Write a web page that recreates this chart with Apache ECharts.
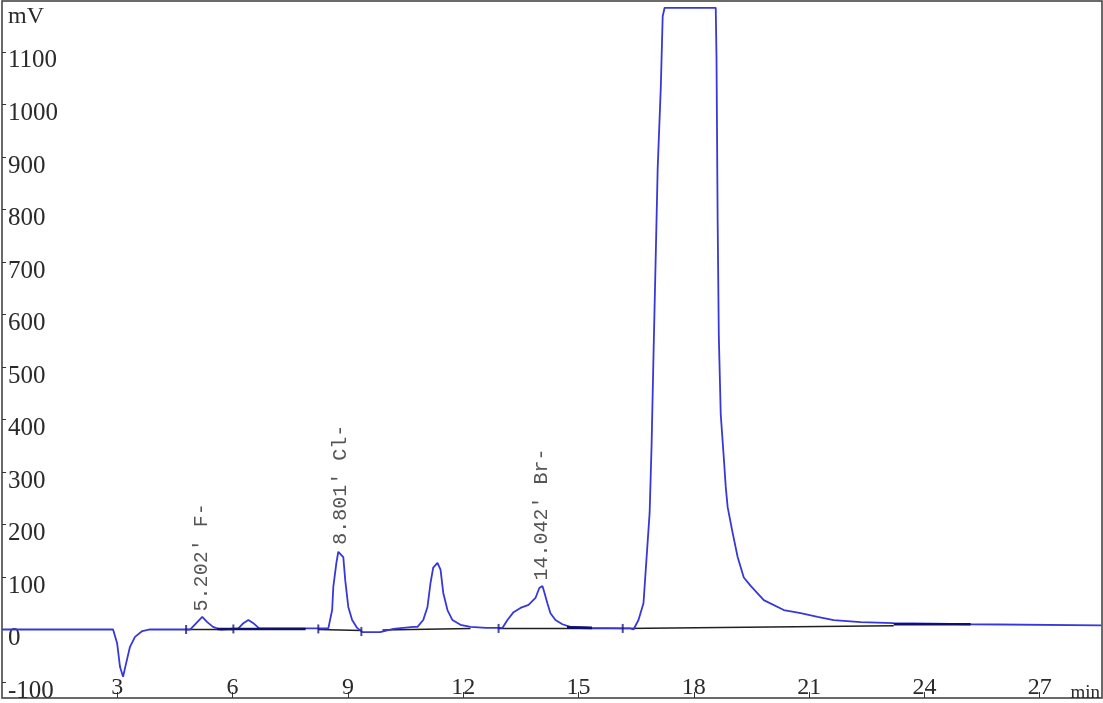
<!DOCTYPE html>
<html>
<head>
<meta charset="utf-8">
<script src="https://cdn.jsdelivr.net/npm/echarts@6/dist/echarts.min.js"></script>
<style>
  html, body { margin: 0; padding: 0; background: #ffffff; }
  #chart { width: 1103px; height: 703px; }
</style>
</head>
<body>
<div id="chart"></div>
<script>
// ---- data ----
const timeMin = [0, 2.89, 2.995, 3.07, 3.15, 3.23, 3.33, 3.46, 3.65, 3.85,
  4.90, 5.08, 5.21, 5.34, 5.49, 5.68,
  6.15, 6.28, 6.41, 6.54, 6.69, 7.5, 8.3,
  8.49, 8.59, 8.62, 8.70, 8.75, 8.80, 8.88, 8.93, 9.01, 9.11, 9.24, 9.38, 9.84, 10.18, 10.70,
  10.81, 10.96, 11.07, 11.15, 11.22, 11.33, 11.41, 11.48, 11.59, 11.72, 11.93, 12.19, 12.6,
  13.02, 13.15, 13.31, 13.49, 13.70, 13.88, 13.98, 14.06, 14.11, 14.19, 14.27, 14.40, 14.58, 14.79, 15.31, 16.35,
  16.43, 16.56, 16.69, 16.77, 16.85, 16.90, 16.95, 17.01, 17.06, 17.14, 17.19, 17.24,
  18.57, 18.59, 18.62, 18.65, 18.70, 18.78, 18.83, 18.88, 19.01, 19.14, 19.30, 19.48, 19.82,
  20.34, 20.78, 21.22, 21.64, 22.34, 23.20, 25.21, 28.6];
const signalMv = [0, 0, -26, -71, -90, -64, -33, -14, -3, 0,
  0, 14, 24, 14, 5, 0,
  2, 12, 18, 12, 2, 2, 2,
  2, 37, 81, 127, 148, 151, 138, 94, 43, 18, 3, -5, -5, 1, 5,
  5, 18, 43, 89, 118, 127, 114, 70, 37, 18, 9, 5, 3,
  3, 18, 33, 41, 47, 60, 79, 83, 71, 50, 31, 18, 10, 5, 3, 2,
  0, 18, 50, 136, 222, 348, 519, 715, 879, 1031, 1168, 1184,
  1184, 1090, 778, 560, 410, 327, 272, 233, 184, 138, 99, 83, 56,
  37, 31, 24, 18, 14, 12, 10, 8];

// integration baselines drawn under the peaks ('-' breaks the line)
const baselineBlack = [[4.79, 0], [6.02, 0], [6.02, '-'],
  [8.23, 0], [9.35, -2], [9.35, '-'],
  [9.9, -1], [12.19, 2], [12.19, '-'],
  [12.92, 2], [16.15, 2], [16.15, '-'],
  [16.15, 2], [23.2, 7]];
const baselineNavy = [[5.6, 1], [6.02, 1], [6.02, '-'],
  [6.02, 1], [7.9, 1], [7.9, '-'],
  [14.7, 4], [15.35, 3], [15.35, '-'],
  [23.2, 10], [25.2, 10]];
const boundaryTimes = [4.79, 6.02, 8.23, 9.35, 12.92, 16.15];
const boundaryValues = [0, 1, 1, -4, 2, 2];

const peakLabels = ["5.202' F-", "8.801' Cl-", "14.042' Br-"];
const peakTimes = [5.202, 8.801, 14.042];
const peakValues = [24, 151, 83];

const xTickValues = [3, 6, 9, 12, 15, 18, 21, 24, 27];
const yTickValues = [-100, 0, 100, 200, 300, 400, 500, 600, 700, 800, 900, 1000, 1100];

// ---- chart ----
const chart = echarts.init(document.getElementById('chart'), null, { renderer: 'canvas' });
const textColor = '#2a2a2a';
const serif = "'Liberation Serif', 'Times New Roman', serif";

const option = {
  backgroundColor: '#ffffff',
  animation: false,
  grid: {
    left: 2, right: 1, top: 1, bottom: 5,
    show: true, borderColor: '#3a3a3a', borderWidth: 1.5,
    backgroundColor: '#ffffff',
    containLabel: false, outerBoundsMode: 'none'
  },
  xAxis: {
    type: 'value', min: 0, max: 28.62,
    name: 'min', nameLocation: 'end', nameGap: -2, nameMoveOverlap: false,
    nameTextStyle: { fontFamily: serif, fontSize: 19, color: textColor, align: 'right', verticalAlign: 'bottom', lineHeight: 10 },
    axisLine: { show: false, onZero: false },
    splitLine: { show: false },
    axisTick: { show: true, inside: true, length: 6, customValues: xTickValues, lineStyle: { color: '#333', width: 1 } },
    axisLabel: { show: true, inside: true, margin: 0, customValues: xTickValues,
      formatter: v => String(v),
      fontFamily: serif, fontSize: 24, color: textColor, verticalAlign: 'bottom', lineHeight: 20 }
  },
  yAxis: {
    type: 'value', min: -130.5, max: 1197,
    name: 'mV', nameLocation: 'end', nameGap: -4, nameMoveOverlap: false,
    nameTextStyle: { fontFamily: serif, fontSize: 24, color: textColor, align: 'left', verticalAlign: 'top', padding: [0, 0, 0, 6] },
    axisLine: { show: false, onZero: false },
    splitLine: { show: false },
    axisTick: { show: true, inside: true, length: 4, customValues: yTickValues, lineStyle: { color: '#333', width: 1 } },
    axisLabel: { show: true, inside: true, margin: 6, customValues: yTickValues,
      formatter: v => String(v),
      fontFamily: serif, fontSize: 25, color: textColor, verticalAlign: 'top', lineHeight: 18 }
  },
  series: [
    {
      type: 'line', name: 'baseline', data: baselineBlack, showSymbol: false, connectNulls: false,
      lineStyle: { color: '#202020', width: 1.6 }, silent: true, z: 1
    },
    {
      type: 'line', name: 'signal',
      data: timeMin.map((t, i) => [t, signalMv[i]]),
      showSymbol: false, smooth: false,
      lineStyle: { color: '#3838d8', width: 1.8 }, z: 2
    },
    {
      type: 'line', name: 'baselineNavy', data: baselineNavy, showSymbol: false, connectNulls: false,
      lineStyle: { color: '#10106a', width: 2.6 }, silent: true, z: 3
    },
    {
      type: 'scatter', name: 'boundaries',
      data: boundaryTimes.map((t, i) => [t, boundaryValues[i]]),
      symbol: 'rect', symbolSize: [2, 9],
      itemStyle: { color: '#1a1a80' }, z: 4
    },
    {
      type: 'scatter', name: 'peaks',
      data: peakTimes.map((t, i) => ({ value: [t, peakValues[i]], name: peakLabels[i] })),
      symbolSize: 1, itemStyle: { color: 'transparent' },
      label: {
        show: true, formatter: '{b}', position: 'top', distance: 5, rotate: 90,
        align: 'left', verticalAlign: 'middle', padding: [6, 0, 0, 0],
        fontFamily: "'Liberation Mono', 'Courier New', monospace", fontSize: 20, color: textColor
      },
      z: 5
    }
  ]
};
chart.setOption(option);
</script>
</body>
</html>
